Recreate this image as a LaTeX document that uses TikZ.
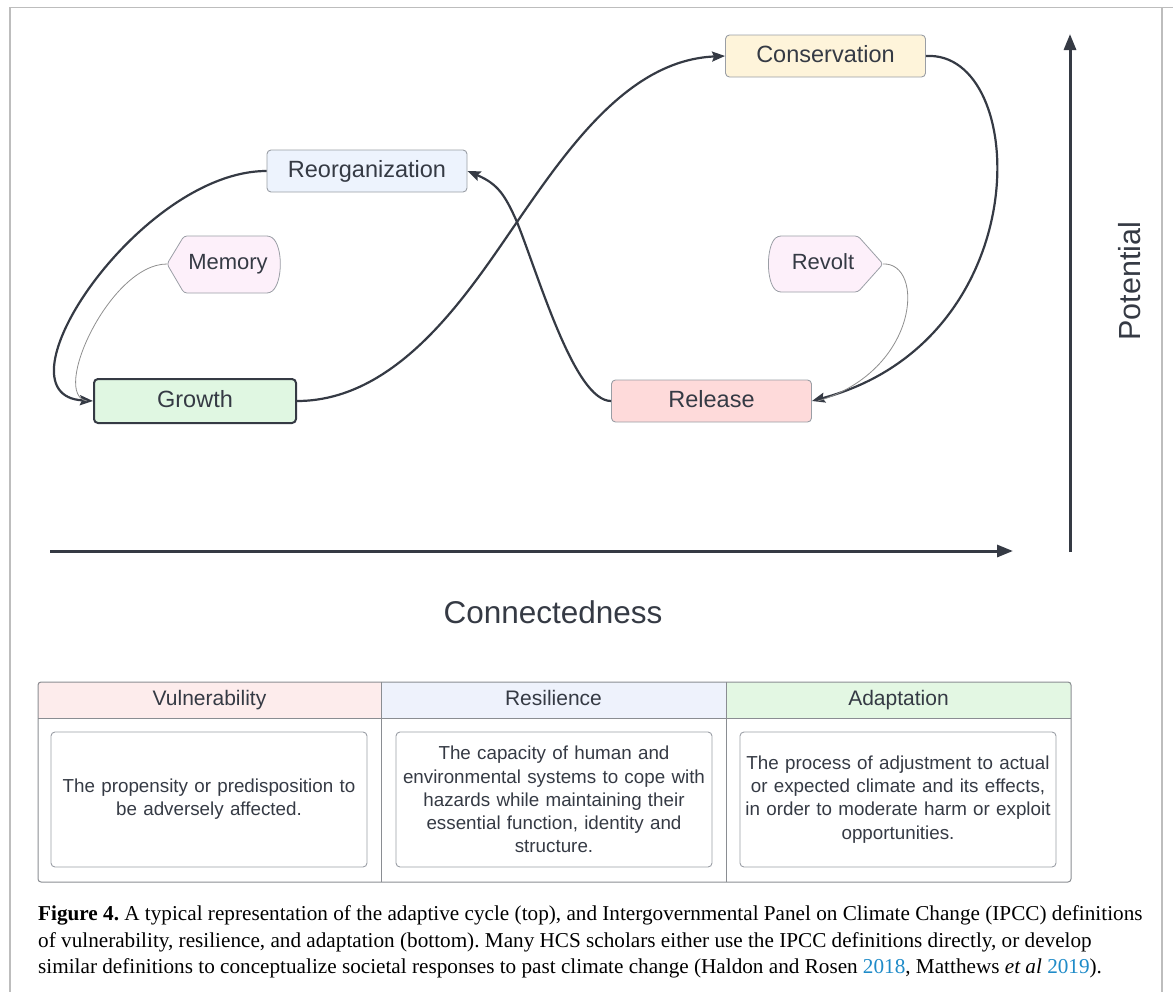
\documentclass[tikz,border=0pt]{standalone}
\usepackage{fontspec}
\setmainfont{Liberation Serif}
\newfontfamily\diagfont{Liberation Sans}
\usetikzlibrary{arrows.meta,positioning,calc}
\definecolor{ink}{HTML}{353A44}
\definecolor{edge}{HTML}{9A9EA5}
\definecolor{thinline}{HTML}{8E8E8E}
\definecolor{consfill}{HTML}{FEF4DA}
\definecolor{reorgfill}{HTML}{EDF3FD}
\definecolor{tagfill}{HTML}{FDF0FA}
\definecolor{growfill}{HTML}{E0F7E2}
\definecolor{relfill}{HTML}{FEDADA}
\definecolor{vulfill}{HTML}{FDECEC}
\definecolor{resfill}{HTML}{EEF2FC}
\definecolor{adafill}{HTML}{E3F7E3}
\definecolor{framegray}{HTML}{BDBDBD}
\definecolor{tablegray}{HTML}{8A8D92}
\definecolor{citeblue}{HTML}{1F8BC8}
\frenchspacing

\begin{document}
\begin{tikzpicture}[x=1pt, y=-1pt,
  font=\diagfont\fontsize{23.5}{28}\selectfont, text=ink,
  phase/.style={rounded corners=4pt, draw=edge, line width=0.9pt, text height=17pt, text depth=5pt,
                minimum width=200pt, minimum height=42pt, inner sep=0pt},
  tag/.style={inner sep=0pt, text height=16pt, text depth=5pt, font=\diagfont\fontsize{22}{26}\selectfont},
  tagline/.style={rounded corners=3pt, draw=edge, line width=0.8pt, fill=tagfill},
  cyc/.style={-{Stealth[length=13pt,width=10pt,inset=2pt]}, line width=2.2pt, draw=ink},
  thin/.style={line width=0.8pt, draw=thinline},
  axis/.style={-{Triangle[length=16pt,width=12pt]}, line width=3pt, draw=ink},
  head/.style={minimum height=36pt, inner sep=0pt, text height=15pt, text depth=4.5pt,
               font=\diagfont\fontsize{21}{25}\selectfont},
  defbox/.style={rounded corners=4pt, draw=edge, line width=0.9pt, minimum width=316pt,
                 minimum height=135pt, text width=316pt, align=center, inner sep=0pt,
                 font=\diagfont\fontsize{18.8}{23.2}\selectfont},
]
\useasboundingbox (0,0) rectangle (1173,991);
\draw[framegray, line width=1.2pt] (10,1000) -- (10,7.5) -- (1173,7.5);
\draw[framegray, line width=1.2pt] (1162,7.5) -- (1162,1000);

% the four phases of the adaptive cycle
\node[phase, fill=consfill] (cons) at (825.5,56) {Conservation};
\node[phase, fill=reorgfill] (reorg) at (367,171) {Reorganization};
\node[phase, fill=growfill, draw=ink, line width=2pt, minimum width=202pt, minimum height=44pt] (grow) at (195,401) {Growth};
\node[phase, fill=relfill] (rel) at (711.5,401) {Release};

% tags (pointed on one side, bulged on the other)
\node[tag] (mem) at (228,264) {Memory};
\draw[tagline] ($(mem)+(-61,0)$) coordinate (memtip) -- ($(mem)+(-44,-28)$) -- ($(mem)+(42,-28)$)
   .. controls ($(mem)+(55,-18)$) and ($(mem)+(55,18)$) .. ($(mem)+(42,29)$) -- ($(mem)+(-44,29)$) -- cycle;
\node[tag] at (mem) {Memory};
\node[tag] (rev) at (823,264) {Revolt};
\draw[tagline] ($(rev)+(60,0)$) coordinate (revtip) -- ($(rev)+(35,28)$) -- ($(rev)+(-45,28)$)
   .. controls ($(rev)+(-57,18)$) and ($(rev)+(-57,-18)$) .. ($(rev)+(-45,-28)$) -- ($(rev)+(35,-28)$) -- cycle;
\node[tag] at (rev) {Revolt};

% the figure-of-eight
\coordinate (cross) at (517,222);
\draw[cyc] (grow.east) .. controls (400,401) and (470,290) .. (cross)
   .. controls (570,145) and (630,60) .. (cons.west);
\draw[cyc] (cons.east) .. controls (1030,50) and (1040,340) .. (rel.east);
\draw[cyc] (rel.west) .. controls (575,401) and (540,280) .. (cross)
   .. controls (505,195) and (498,184) .. (reorg.east);
\draw[cyc] (reorg.west) .. controls (140,171) and (-10,395) .. (grow.west);
\draw[thin] (memtip) .. controls (110,264) and (50,395) .. ([xshift=-6pt]grow.west);
\draw[thin] (revtip) .. controls (925,262) and (920,370) .. ([xshift=6pt]rel.east);

% axes
\coordinate (hstart) at (50,551);
\coordinate (hend) at (1013,551);
\coordinate (vstart) at (1070,552);
\coordinate (vend) at (1070,34);
\draw[axis] (hstart) -- (hend);
\draw[axis] (vstart) -- (vend);
\node[font=\diagfont\fontsize{31.5}{36}\selectfont] (conn) at (553,612) {Connectedness};
\node[font=\diagfont\fontsize{30.5}{36}\selectfont, rotate=90] (pot) at (1130,281) {Potential};

% IPCC definitions table
\node[head, fill=vulfill, minimum width=343pt] (vul) at (209.5,700) {Vulnerability};
\node[head, fill=resfill, minimum width=345pt] (res) at (553.5,700) {Resilience};
\node[head, fill=adafill, minimum width=345pt] (ada) at (898.5,700) {Adaptation};
\draw[tablegray, line width=1pt, rounded corners=3pt] (38,682) rectangle (1071,882);
\draw[tablegray, line width=1pt] (38,718) -- (1071,718);
\draw[tablegray, line width=1pt] (381,682) -- (381,882);
\draw[tablegray, line width=1pt] (726,682) -- (726,882);
\node[defbox] (vulbox) at (209,799.5) {The propensity or predisposition to\\be adversely affected.};
\node[defbox] (resbox) at (554,799.5) {The capacity of human and\\environmental systems to cope with\\hazards while maintaining their\\essential function, identity and\\structure.};
\node[defbox] (adabox) at (898,799.5) {The process of adjustment to actual\\or expected climate and its effects,\\in order to moderate harm or exploit\\opportunities.};

% caption
\node[anchor=north west, inner sep=0pt, align=left, text=black,
      font=\rmfamily\fontsize{21.2}{26.5}\selectfont] (cap) at (38,905.5)
  {\textbf{Figure 4.} A typical representation of the adaptive cycle (top), and Intergovernmental Panel on Climate Change (IPCC) definitions\\
   of vulnerability, resilience, and adaptation (bottom). Many HCS scholars either use the IPCC definitions directly, or develop\\
   similar definitions to conceptualize societal responses to past climate change (Haldon and Rosen \textcolor{citeblue}{2018}, Matthews \textit{et al} \textcolor{citeblue}{2019}).};
\end{tikzpicture}
\end{document}
